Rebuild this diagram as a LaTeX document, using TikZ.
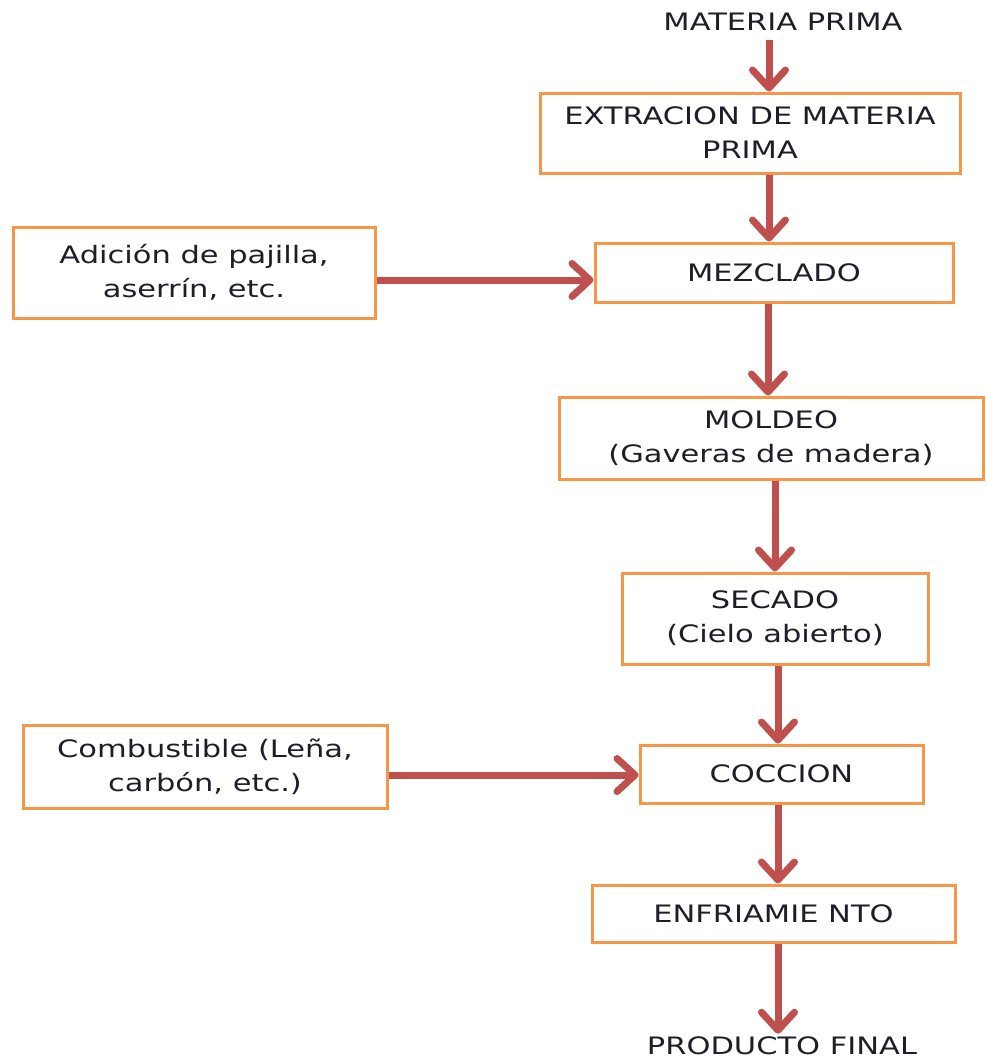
\documentclass[tikz,border=0pt]{standalone}
\usepackage{fontspec}
\setmainfont{DejaVu Sans}[FakeStretch=1.27]
\usetikzlibrary{arrows.meta}
\definecolor{boxline}{HTML}{F79646}
\definecolor{flow}{HTML}{C0504D}
\definecolor{ink}{HTML}{1E1E2A}
\tikzset{
  x=1pt, y=1pt,
  stage/.style={draw=boxline, line width=3pt, fill=white, align=center,
    inner sep=0pt, text=ink, font=\fontsize{24}{34}\selectfont},
  label/.style={text=ink, inner sep=0pt, font=\fontsize{24}{34}\selectfont},
  flowarrow/.style={draw=flow, line width=7pt,
    -{Straight Barb[length=18pt,width=33pt,line cap=round,line join=round]}}
}
\begin{document}
\begin{tikzpicture}
\useasboundingbox (0,0) rectangle (986,-1061);
% terminal labels
\node[label] (mp) at (783,-22) {MATERIA PRIMA};
\node[label] (pf) at (782,-1046) {PRODUCTO FINAL};
% process stages
\node[stage, minimum width=420, minimum height=80] (ext) at (750,-133)
  {EXTRACION DE MATERIA\\PRIMA};
\node[stage, minimum width=358, minimum height=59] (mez) at (774,-272.5) {MEZCLADO};
\node[stage, minimum width=362, minimum height=91] (adi) at (194,-272.5)
  {Adición de pajilla,\\aserrín, etc.};
\node[stage, minimum width=424, minimum height=82] (mol) at (771,-438)
  {MOLDEO\\(Gaveras de madera)};
\node[stage, minimum width=306, minimum height=91] (sec) at (775,-618.5)
  {SECADO\\(Cielo abierto)};
\node[stage, minimum width=283, minimum height=58] (coc) at (781.5,-774) {COCCION};
\node[stage, minimum width=364, minimum height=83] (com) at (205,-766.5)
  {Combustible (Leña,\\carbón, etc.)};
\node[stage, minimum width=363, minimum height=57] (enf) at (773.5,-913.5) {ENFRIAMIE NTO};
% arrow columns / rows
\coordinate (c1) at (769,0);
\coordinate (c2) at (768,0);
\coordinate (c3) at (775,0);
\coordinate (c4) at (778,0);
\coordinate (r1) at (0,-280);
\coordinate (r2) at (0,-775);
% flow
\draw[flowarrow] (c1 |- 0,-40) -- (ext.north -| c1);
\draw[flowarrow] (ext.south -| c1) -- (mez.north -| c1);
\draw[flowarrow] (adi.east |- r1) -- (mez.west |- r1);
\draw[flowarrow] (mez.south -| c2) -- (mol.north -| c2);
\draw[flowarrow] (mol.south -| c3) -- (sec.north -| c3);
\draw[flowarrow] (sec.south -| c4) -- (coc.north -| c4);
\draw[flowarrow] (com.east |- r2) -- (coc.west |- r2);
\draw[flowarrow] (coc.south -| c4) -- (enf.north -| c4);
\draw[flowarrow] (enf.south -| c4) -- ([yshift=3pt]pf.north -| c4);
\end{tikzpicture}
\end{document}
